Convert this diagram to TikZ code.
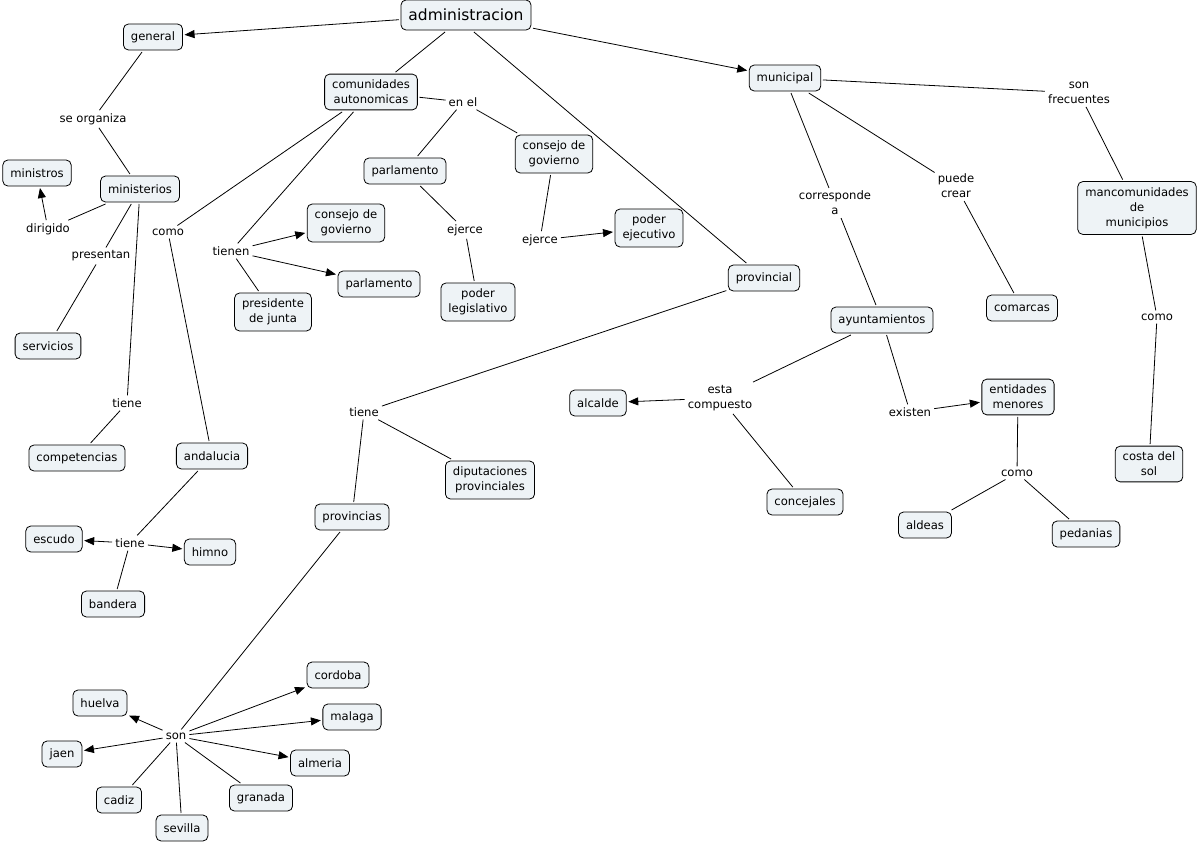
\documentclass[tikz,border=0pt]{standalone}
\usepackage{fontspec}
\setmainfont{DejaVu Sans}
\usetikzlibrary{arrows.meta}
\definecolor{boxfill}{RGB}{238,243,246}
\newcommand{\fs}{\fontsize{11.6pt}{14.8pt}\selectfont}
\newcommand{\fsbig}{\fontsize{15.5pt}{18pt}\selectfont}
\tikzset{
  box/.style={draw, line width=0.8pt, rounded corners=5pt, fill=boxfill, align=center,
    inner xsep=7.5pt, inner ysep=6pt, minimum height=26pt, outer sep=2pt, font=\fs},
  lab/.style={align=center, inner sep=3pt, font=\fs},
  con/.style={line width=0.8pt},
  arr/.style={con, -{Triangle[length=10pt,width=8pt]}}
}
\begin{document}
\begin{tikzpicture}[x=1pt,y=-1pt]
\useasboundingbox (0,0) rectangle (1200,844);
% concepts
\node[box, font=\fsbig, minimum height=30pt] (adm) at (466,15) {administracion};
\node[box] (gen) at (153,37) {general};
\node[box] (min) at (140,189) {ministerios};
\node[box] (mtros) at (37,173) {ministros};
\node[box] (serv) at (48,346) {servicios};
\node[box] (comp) at (77,458) {competencias};
\node[box] (ca) at (371,92) {comunidades\\autonomicas};
\node[box] (and) at (212,456) {andalucia};
\node[box] (esc) at (54,539) {escudo};
\node[box] (him) at (210,552) {himno};
\node[box] (ban) at (113,604) {bandera};
\node[box] (parl) at (405,171) {parlamento};
\node[box] (cons) at (554,154) {consejo de\\govierno};
\node[box] (cons2) at (346,223) {consejo de\\govierno};
\node[box] (parl2) at (379,284) {parlamento};
\node[box] (pres) at (273,312) {presidente\\de junta};
\node[box] (pleg) at (478,302) {poder\\legislativo};
\node[box] (pej) at (649,228) {poder\\ejecutivo};
\node[box] (prov) at (764,278) {provincial};
\node[box] (provs) at (352,517) {provincias};
\node[box] (dip) at (490,480) {diputaciones\\provinciales};
\node[box] (cor) at (338,675) {cordoba};
\node[box] (hue) at (100,703) {huelva};
\node[box] (mal) at (352,717) {malaga};
\node[box] (jae) at (62,754) {jaen};
\node[box] (alm) at (320,763) {almeria};
\node[box] (cad) at (119,800) {cadiz};
\node[box] (gra) at (261,798) {granada};
\node[box] (sev) at (182,828) {sevilla};
\node[box] (mun) at (785,78) {municipal};
\node[box] (manc) at (1137,208) {mancomunidades\\de\\municipios};
\node[box] (costa) at (1149,464) {costa del\\sol};
\node[box] (comar) at (1022,308) {comarcas};
\node[box] (ayu) at (882,320) {ayuntamientos};
\node[box] (alc) at (598,403) {alcalde};
\node[box] (conc) at (805,502) {concejales};
\node[box] (ent) at (1018,397) {entidades\\menores};
\node[box] (ald) at (925,525) {aldeas};
\node[box] (ped) at (1086,534) {pedanias};
% linking phrases
\node[lab] (seorg) at (93,119) {se organiza};
\node[lab] (dir) at (48,229) {dirigido};
\node[lab] (presn) at (101,256) {presentan};
\node[lab] (tiene1) at (127,403) {tiene};
\node[lab] (como1) at (168,232) {como};
\node[lab] (tiene2) at (130,543) {tiene};
\node[lab] (enel) at (463,102) {en el};
\node[lab] (tienen) at (231,251) {tienen};
\node[lab] (ej1) at (465,230) {ejerce};
\node[lab] (ej2) at (540,240) {ejerce};
\node[lab] (tiene3) at (364,412) {tiene};
\node[lab] (son) at (176,736) {son};
\node[lab] (sonf) at (1079,93) {son\\frecuentes};
\node[lab] (como2) at (1157,317) {como};
\node[lab] (corr) at (835,203) {corresponde\\a};
\node[lab] (pued) at (956,186) {puede\\crear};
\node[lab] (esta) at (720,398) {esta\\compuesto};
\node[lab] (exis) at (910,412) {existen};
\node[lab] (como3) at (1017,473) {como};
% connectors
\draw[arr] (adm) -- (gen);
\draw[con] (adm) -- (ca);
\draw[con] (adm.-65) -- (prov);
\draw[arr] (adm) -- (mun);
\draw[con] (gen) -- (seorg);
\draw[con] (seorg) -- (min);
\draw[con] (min) -- (dir);
\draw[arr] (dir) -- (mtros);
\draw[con] (min) -- (presn);
\draw[con] (presn) -- (serv);
\draw[con] (min) -- (tiene1);
\draw[con] (tiene1) -- (comp);
\draw[con] (ca) -- (como1);
\draw[con] (como1) -- (and);
\draw[con] (and) -- (tiene2);
\draw[arr] (tiene2) -- (esc);
\draw[arr] (tiene2) -- (him);
\draw[con] (tiene2) -- (ban);
\draw[con] (ca) -- (enel);
\draw[con] (enel) -- (parl);
\draw[con] (enel) -- (cons);
\draw[con] (ca) -- (tienen);
\draw[arr] (tienen) -- (cons2);
\draw[arr] (tienen) -- (parl2);
\draw[con] (tienen) -- (pres);
\draw[con] (parl) -- (ej1);
\draw[con] (ej1) -- (pleg);
\draw[con] (cons) -- (ej2);
\draw[arr] (ej2) -- (pej);
\draw[con] (prov) -- (tiene3);
\draw[con] (tiene3) -- (provs);
\draw[con] (tiene3) -- (dip);
\draw[con] (provs) -- (son);
\draw[arr] (son) -- (cor);
\draw[arr] (son) -- (hue);
\draw[arr] (son) -- (mal);
\draw[arr] (son) -- (jae);
\draw[arr] (son) -- (alm);
\draw[con] (son) -- (cad);
\draw[con] (son) -- (gra);
\draw[con] (son) -- (sev);
\draw[con] (mun) -- (sonf);
\draw[con] (sonf) -- (manc);
\draw[con] (manc) -- (como2);
\draw[con] (como2) -- (costa);
\draw[con] (mun) -- (corr);
\draw[con] (corr) -- (ayu);
\draw[con] (mun) -- (pued);
\draw[con] (pued) -- (comar);
\draw[con] (ayu) -- (esta);
\draw[arr] (esta) -- (alc);
\draw[con] (esta) -- (conc);
\draw[con] (ayu) -- (exis);
\draw[arr] (exis) -- (ent);
\draw[con] (ent) -- (como3);
\draw[con] (como3) -- (ald);
\draw[con] (como3) -- (ped);
\end{tikzpicture}
\end{document}
